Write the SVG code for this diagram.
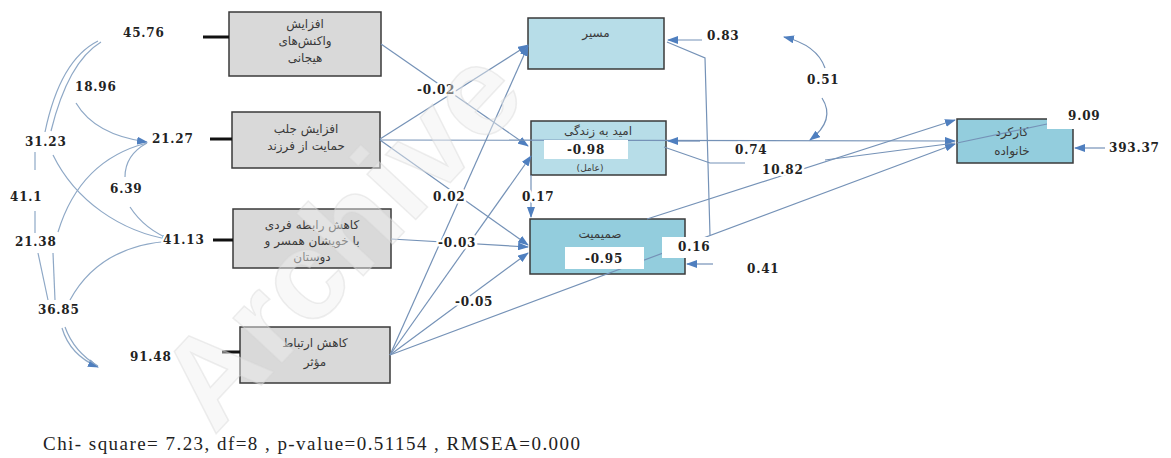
<svg xmlns="http://www.w3.org/2000/svg" width="1171" height="458" viewBox="0 0 1171 458">
<style>
.box{stroke:#3a3a3a;stroke-width:1.5}
.g{fill:#d9d9d9}
.b1{fill:#b7dde8}
.b2{fill:#93cddd}
.fa{font-family:"DejaVu Sans",sans-serif;font-size:12px;fill:#3a3a3a;text-anchor:middle}
.num{font-family:"DejaVu Serif",serif;font-weight:bold;font-size:12px;fill:#222;letter-spacing:0.8px;stroke:#fff;stroke-width:5px;paint-order:stroke;stroke-linejoin:round}
.c{fill:none;stroke:#7592b7;stroke-width:1.2}
.lc{fill:none;stroke:#8ea8c6;stroke-width:1.2}
.stub{stroke:#111;stroke-width:3}
.wb{fill:#fff}
</style>
<defs>
<marker id="ah" markerUnits="userSpaceOnUse" markerWidth="11" markerHeight="8" refX="10" refY="4" orient="auto">
<path d="M0,0 L11,4 L0,8 Z" fill="#4f7fbf"/>
</marker>
</defs>
<rect width="1171" height="458" fill="#fff"/>

<g id="n-box1">
<rect class="box g" x="229" y="12" width="152" height="64"/>
<line class="stub" x1="203" y1="37" x2="229" y2="37"/>
<text class="fa" x="305" y="28">افزایش</text>
<text class="fa" x="305" y="45">واکنش‌های</text>
<text class="fa" x="305" y="62">هیجانی</text>
</g>
<g id="n-box2">
<rect class="box g" x="232" y="112" width="148" height="56"/>
<line class="stub" x1="210" y1="139" x2="232" y2="139"/>
<text class="fa" x="306" y="133">افزایش جلب</text>
<text class="fa" x="306" y="150">حمایت از فرزند</text>
</g>
<g id="n-box3">
<rect class="box g" x="233" y="209" width="158" height="59"/>
<line class="stub" x1="213" y1="240" x2="233" y2="240"/>
<text class="fa" x="312" y="229">کاهش رابطه فردی</text>
<text class="fa" x="312" y="245">با خویشان  همسر و</text>
<text class="fa" x="312" y="261">دوستان</text>
</g>
<g id="n-box4">
<rect class="box g" x="240" y="327" width="150" height="56"/>
<line class="stub" x1="222" y1="352" x2="240" y2="352"/>
<text class="fa" x="315" y="347">کاهش ارتباط</text>
<text class="fa" x="315" y="366">مؤثر</text>
</g>
<g id="n-masir">
<rect class="box b1" x="528" y="18" width="136" height="51"/>
<text class="fa" x="596" y="37">مسیر</text>
</g>
<g id="n-omid">
<rect class="box b1" x="531" y="121" width="135" height="54"/>
<text class="fa" x="598" y="135">امید به زندگی</text>
<text class="fa" x="590" y="171" style="font-size:9px">(عامل)</text>
</g>
<g id="n-samimiat">
<rect class="box b2" x="530" y="219" width="155" height="55"/>
<text class="fa" x="600" y="238">صمیمیت</text>
</g>
<g id="n-karkard">
<rect class="box b2" x="957" y="119" width="116" height="44"/>
<text class="fa" x="1012" y="136">کارکرد</text>
<text class="fa" x="1012" y="155">خانواده</text>
</g>

<g id="connectors">
<path class="lc" d="M98,41 Q60,60 45,132"/>
<path class="lc" d="M101,42 Q68,62 51,131"/>
<path class="lc" d="M76,103 Q95,135 147,142" marker-end="url(#ah)"/>
<path class="lc" d="M35,152 L35,170"/>
<path class="lc" d="M35,211 L35,233"/>
<path class="lc" d="M53,155 C75,200 120,232 172,240" marker-end="url(#ah)"/>
<path class="lc" d="M58,232 Q80,160 147,143"/>
<path class="lc" d="M125,177 Q125,155 147,143"/>
<path class="lc" d="M130,207 Q145,230 172,240"/>
<path class="lc" d="M38,253 L48,300"/>
<path class="lc" d="M53,253 L55,300"/>
<path class="lc" d="M70,300 Q100,245 172,241"/>
<path class="lc" d="M62,328 Q70,355 98,367" marker-end="url(#ah)"/>
<path class="lc" d="M65,327 Q74,352 98,366"/>

<path class="c" d="M381,44 L528,146" marker-end="url(#ah)"/>
<path class="c" d="M380,139 L528,45" marker-end="url(#ah)"/>
<path class="c" d="M380,140 L955,141" marker-end="url(#ah)"/>
<path class="c" d="M380,140 L528,245" marker-end="url(#ah)"/>
<path class="c" d="M391,239 L528,247" marker-end="url(#ah)"/>
<path class="c" d="M390,355 L528,46" marker-end="url(#ah)"/>
<path class="c" d="M390,355 L531,156" marker-end="url(#ah)"/>
<path class="c" d="M390,355 L528,253" marker-end="url(#ah)"/>
<path class="c" d="M390,355 L955,144" marker-end="url(#ah)"/>
<path class="c" d="M531,175 L531,217" marker-end="url(#ah)"/>
<path class="c" d="M667,42 L705,58 L710,235"/>
<path class="c" d="M664,147 L710,163 L745,163 M825,160 L955,143"/>
<path class="c" d="M647,219 L955,120" marker-end="url(#ah)"/>
<path class="c" d="M957,143 L1047,124"/>
<path class="c" d="M702,40 L668,40" marker-end="url(#ah)"/>
<path class="c" d="M700,141 L668,141" marker-end="url(#ah)"/>
<path class="c" d="M713,264 L687,264" marker-end="url(#ah)"/>
<path class="c" d="M1105,148 L1075,148" marker-end="url(#ah)"/>
<path class="c" d="M825,68 Q817,45 784,37" marker-end="url(#ah)"/>
<path class="c" d="M822,98 Q836,120 810,140" marker-end="url(#ah)"/>
</g>

<g id="labels">
<rect class="wb" x="544" y="140" width="84" height="19"/>
<rect class="wb" x="565" y="247" width="79" height="22"/>
<rect class="wb" x="662" y="237" width="51" height="21"/>
<rect class="wb" x="1047" y="110" width="28" height="19"/>
<text class="num" x="123" y="37">45.76</text>
<text class="num" x="75" y="91">18.96</text>
<text class="num" x="152" y="143">21.27</text>
<text class="num" x="25" y="146">31.23</text>
<text class="num" x="10" y="201">41.1</text>
<text class="num" x="110" y="193">6.39</text>
<text class="num" x="163" y="244">41.13</text>
<text class="num" x="15" y="246">21.38</text>
<text class="num" x="38" y="314">36.85</text>
<text class="num" x="130" y="361">91.48</text>
<text class="num" x="417" y="94">-0.02</text>
<text class="num" x="433" y="201">0.02</text>
<text class="num" x="438" y="247">-0.03</text>
<text class="num" x="455" y="306">-0.05</text>
<text class="num" x="522" y="201">0.17</text>
<text class="num" x="586" y="154" text-anchor="middle">-0.98</text>
<text class="num" x="604" y="263" text-anchor="middle">-0.95</text>
<text class="num" x="707" y="40">0.83</text>
<text class="num" x="807" y="84">0.51</text>
<text class="num" x="735" y="154">0.74</text>
<text class="num" x="762" y="174">10.82</text>
<text class="num" x="678" y="251">0.16</text>
<text class="num" x="747" y="273">0.41</text>
<text class="num" x="1068" y="120">9.09</text>
<text class="num" x="1109" y="152">393.37</text>
</g>

<text x="43" y="450" font-family="Liberation Serif, serif" font-size="19" fill="#222" textLength="537" lengthAdjust="spacing">Chi- square= 7.23, df=8 , p-value=0.51154 , RMSEA=0.000</text>

<text transform="translate(214,436) rotate(-47)" font-family="Liberation Sans, sans-serif" font-weight="bold" font-size="126" fill="#f0f0f0" fill-opacity="0.45" stroke="#d5d5d5" stroke-opacity="0.4" stroke-width="1.5">Archive</text>
</svg>
